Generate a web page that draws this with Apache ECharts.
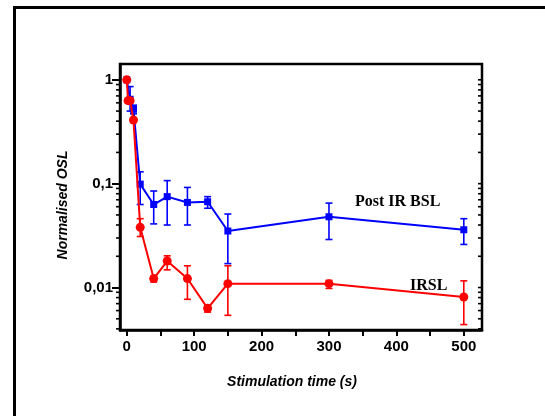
<!DOCTYPE html>
<html>
<head>
<meta charset="utf-8">
<script src="https://cdn.jsdelivr.net/npm/echarts@6/dist/echarts.min.js"></script>
<style>
    html, body {margin: 0; padding: 0; background: #fff;}
    #main {width: 545px; height: 416px;}
</style>
</head>
<body>
<div id="main"></div>
<script>
// Post IR BSL
var bslTime  = [0, 5, 10, 20, 40, 60, 90, 120, 150, 300, 500];
var bslValue = [1, 0.65, 0.52, 0.099, 0.063, 0.075, 0.066, 0.067, 0.035, 0.048, 0.036];
var bslLow   = [1, 0.50, 0.47, 0.063, 0.041, 0.040, 0.040, 0.058, 0.017, 0.029, 0.026];
var bslHigh  = [1, 0.86, 0.57, 0.13, 0.085, 0.107, 0.092, 0.075, 0.051, 0.065, 0.046];

// IRSL
var irslTime  = [0, 2, 5, 10, 20, 40, 60, 90, 120, 150, 300, 500];
var irslValue = [1, 0.63, 0.63, 0.41, 0.038, 0.0122, 0.018, 0.0122, 0.0063, 0.0109, 0.0109, 0.0081];
var irslLow   = [1, 0.60, 0.60, 0.39, 0.031, 0.0113, 0.0148, 0.0077, 0.0058, 0.0054, 0.0098, 0.0044];
var irslHigh  = [1, 0.66, 0.66, 0.43, 0.046, 0.0129, 0.0202, 0.0162, 0.0067, 0.0162, 0.0117, 0.0116];

// axis ticks
var xLabelValues = [0, 100, 200, 300, 400, 500];
var xTickValues  = [0, 50, 100, 150, 200, 250, 300, 350, 400, 450, 500];
var yMinorTicks  = [0.004, 0.005, 0.006, 0.007, 0.008, 0.009,
                    0.02, 0.03, 0.04, 0.05, 0.06, 0.07, 0.08, 0.09,
                    0.2, 0.3, 0.4, 0.5, 0.6, 0.7, 0.8, 0.9];
var yMajorTicks  = [0.01, 0.1, 1];

function zip(a, b) {
    return a.map(function (v, i) { return [v, b[i]]; });
}
function bars(t, lo, hi) {
    return t.map(function (v, i) { return [v, lo[i], hi[i]]; });
}

/*误差棒*/
function errorBarItem(params, api) {
    var x = api.value(0);
    if (api.value(1) === api.value(2)) return;
    var lo = api.coord([x, api.value(1)]);
    var hi = api.coord([x, api.value(2)]);
    var w = 3.5;
    var style = {stroke: api.visual('color'), lineWidth: 1.6};
    return {
        type: 'group',
        children: [
            {type: 'line', shape: {x1: lo[0], y1: lo[1], x2: hi[0], y2: hi[1]}, style: style},
            {type: 'line', shape: {x1: lo[0] - w, y1: lo[1], x2: lo[0] + w, y2: lo[1]}, style: style},
            {type: 'line', shape: {x1: hi[0] - w, y1: hi[1], x2: hi[0] + w, y2: hi[1]}, style: style}
        ]
    };
}

/*对数副刻度*/
function tickItem(len) {
    return function (params, api) {
        var cs = params.coordSys;
        var p = api.coord([0, api.value(0)]);
        var style = {stroke: '#000', lineWidth: 1.6};
        return {
            type: 'group',
            children: [
                {type: 'line', shape: {x1: cs.x - len, y1: p[1], x2: cs.x, y2: p[1]}, style: style},
                {type: 'line', shape: {x1: cs.x + cs.width - 4, y1: p[1], x2: cs.x + cs.width, y2: p[1]}, style: style}
            ]
        };
    };
}

var myChart = echarts.init(document.getElementById('main'));
var labelFont = {color: '#000', fontFamily: 'Liberation Sans', fontWeight: 'bold', fontSize: 15};
var option = {
    animation: false,
    backgroundColor: '#fff',
    grid: {
        left: 120, top: 64, right: 63, bottom: 86,
        show: true, borderColor: '#000', borderWidth: 2.5
    },
    xAxis: {
        type: 'value',
        min: -10,
        max: 527,
        name: 'Stimulation time (s)',
        nameLocation: 'middle',
        nameGap: 45,
        nameTextStyle: {color: '#000', fontFamily: 'Liberation Sans', fontWeight: 'bold', fontStyle: 'italic', fontSize: 14, padding: [0, 18, 0, 0]},
        axisLine: {onZero: false, lineStyle: {color: '#000', width: 2.5}},
        axisTick: {customValues: xTickValues, length: 6, lineStyle: {color: '#000', width: 2}},
        axisLabel: Object.assign({customValues: xLabelValues, margin: 9}, labelFont),
        splitLine: {show: false}
    },
    yAxis: {
        type: 'log',
        logBase: 10,
        min: 0.0039,
        max: 1.42,
        name: 'Normalised OSL',
        nameLocation: 'middle',
        nameGap: 50,
        nameTextStyle: {color: '#000', fontFamily: 'Liberation Sans', fontWeight: 'bold', fontStyle: 'italic', fontSize: 14, padding: [0, 16, 0, 0]},
        axisLine: {onZero: false, lineStyle: {color: '#000', width: 2.5}},
        axisTick: {length: 8, lineStyle: {color: '#000', width: 2}},
        axisLabel: Object.assign({
            margin: 7,
            showMinLabel: false,
            showMaxLabel: false,
            formatter: function (v) {
                if (yMajorTicks.indexOf(+v.toPrecision(3)) < 0) return '';
                return String(+v.toPrecision(3)).replace('.', ',');
            }
        }, labelFont),
        splitLine: {show: false}
    },
    graphic: [
        {type: 'rect', left: 12, top: 5, shape: {width: 600, height: 500},
         style: {fill: 'none', stroke: '#000', lineWidth: 3}},
        {type: 'text', left: 355, top: 194,
         style: {text: 'Post IR BSL', fill: '#000', font: 'bold 16px "Liberation Serif"'}},
        {type: 'text', left: 410, top: 278,
         style: {text: 'IRSL', fill: '#000', font: 'bold 16px "Liberation Serif"'}}
    ],
    series: [
        {
            name: 'Post IR BSL',
            type: 'line',
            data: zip(bslTime, bslValue),
            symbol: 'rect',
            symbolSize: 7,
            itemStyle: {color: '#0000ff'},
            lineStyle: {color: '#0000ff', width: 2},
            z: 3
        },
        {
            name: 'IRSL',
            type: 'line',
            data: zip(irslTime, irslValue),
            symbol: 'circle',
            symbolSize: 9,
            itemStyle: {color: '#ff0000'},
            lineStyle: {color: '#ff0000', width: 2},
            z: 4
        },
        {
            type: 'custom',
            renderItem: errorBarItem,
            data: bars(bslTime, bslLow, bslHigh),
            encode: {x: 0, y: [1, 2]},
            itemStyle: {color: '#0000ff'},
            silent: true,
            z: 3
        },
        {
            type: 'custom',
            renderItem: errorBarItem,
            data: bars(irslTime, irslLow, irslHigh),
            encode: {x: 0, y: [1, 2]},
            itemStyle: {color: '#ff0000'},
            silent: true,
            z: 4
        },
        {
            type: 'custom',
            renderItem: tickItem(4),
            data: yMinorTicks.map(function (v) { return [v]; }),
            encode: {y: 0},
            silent: true,
            clip: false
        },
        {
            type: 'custom',
            renderItem: tickItem(0),
            data: yMajorTicks.map(function (v) { return [v]; }),
            encode: {y: 0},
            silent: true,
            clip: false
        }
    ]
};
myChart.setOption(option);
</script>
</body>
</html>
